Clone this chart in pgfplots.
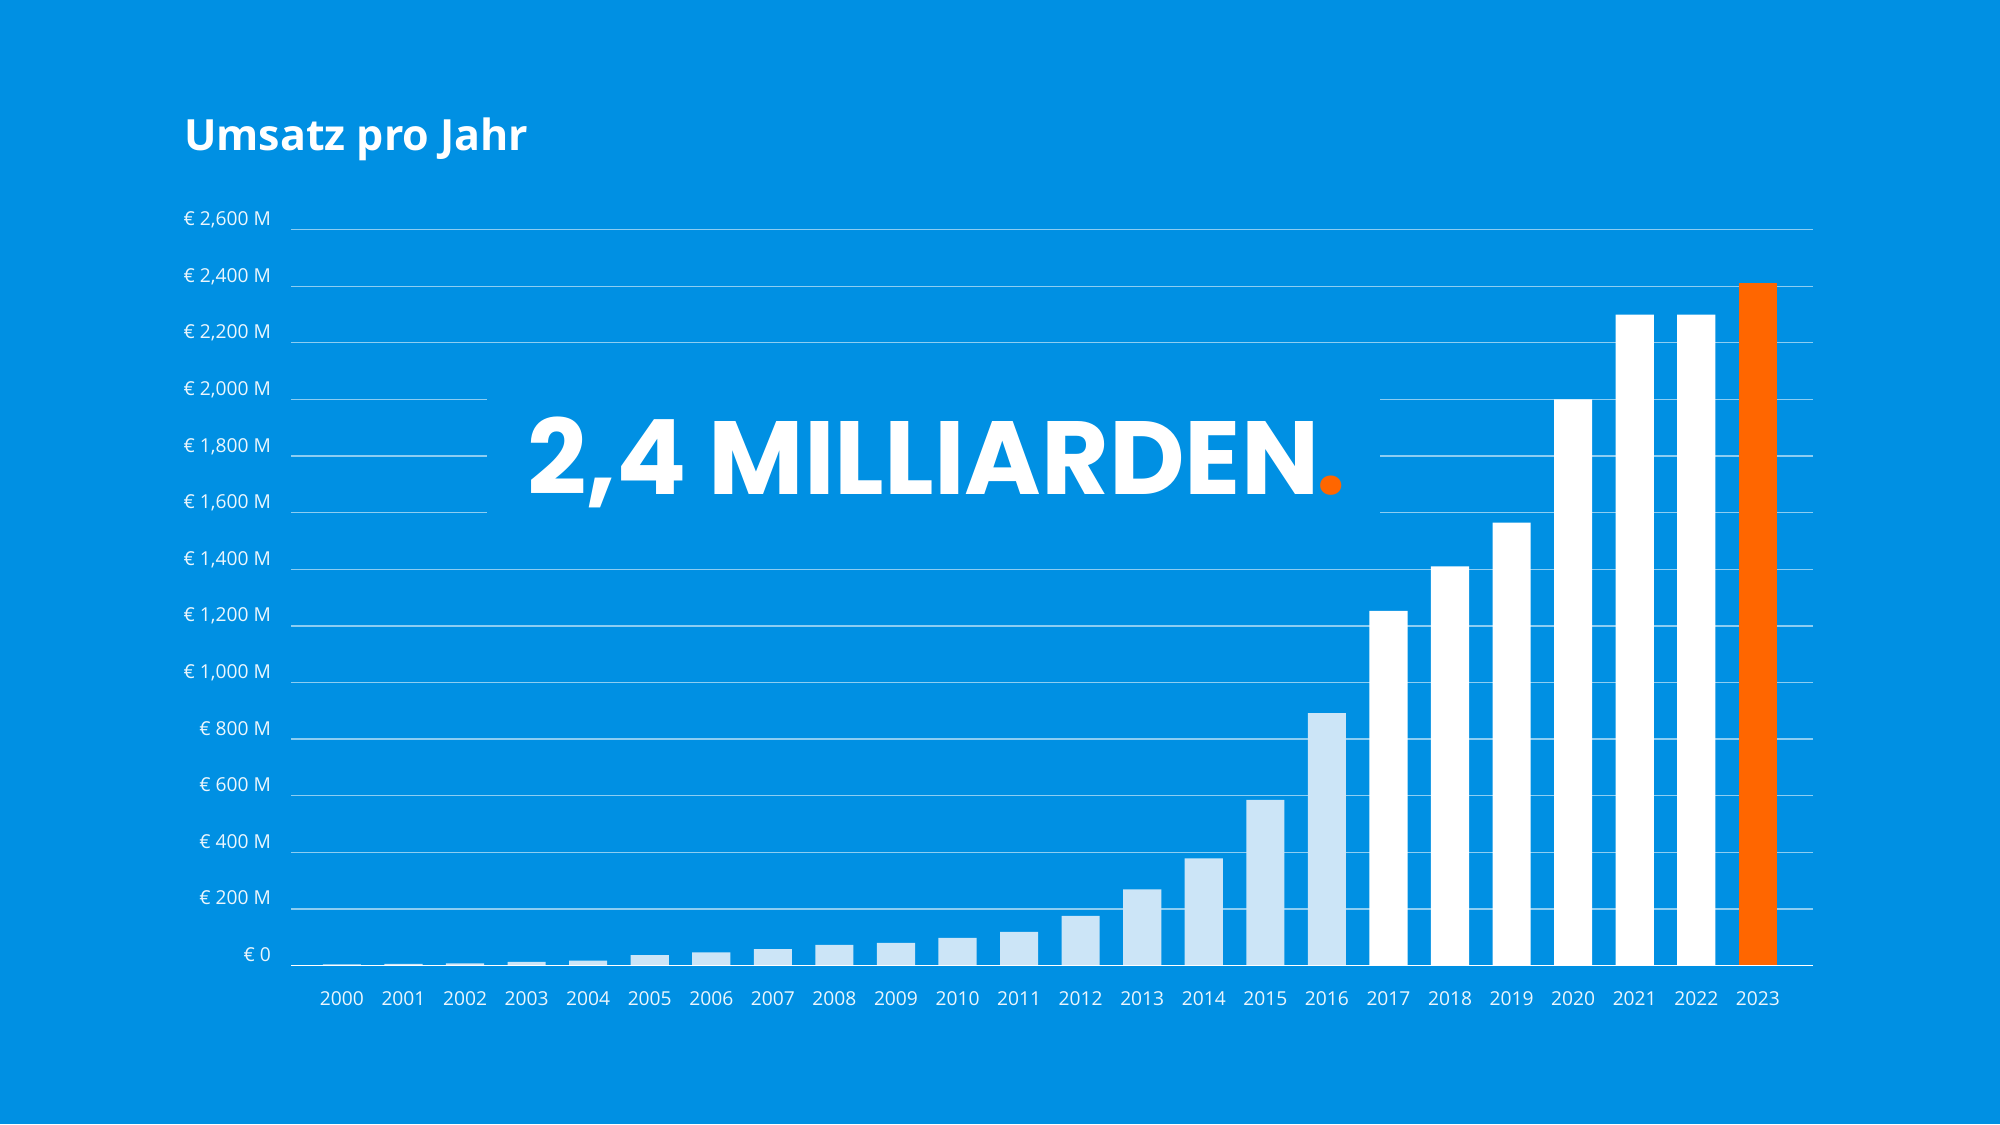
\documentclass[border=0pt]{standalone}
\usepackage{pgfplots}
\pgfplotsset{compat=1.18}
\usepackage{fontspec}
\setmainfont{Open Sans}
\newfontfamily\bigfont{Poppins}
\definecolor{bg}{RGB}{0,144,227}
\definecolor{lightbar}{RGB}{204,229,247}
\definecolor{orangebar}{RGB}{255,102,0}
\colorlet{gridc}{white!55!bg}
\colorlet{labc}{white!92!bg}
\begin{document}
\begin{tikzpicture}
\fill[bg] (0,0) rectangle (1000pt,562pt);
\node[anchor=base west, text=white, inner sep=0pt, font=\fontsize{21.5}{26}\selectfont\bfseries] at (91.8pt,486.7pt) {Umsatz pro Jahr};
\begin{axis}[
  at={(145.4pt,79.2pt)}, anchor=south west,
  scale only axis, width=760.9pt, height=368pt,
  xmin=-0.83, xmax=23.89, ymin=0, ymax=2600,
  axis line style={draw=none},
  major tick length=0pt,
  ytick={0,200,...,2600},
  yticklabels={€ 0,€ 200 M,€ 400 M,€ 600 M,€ 800 M,€ 1{,}000 M,€ 1{,}200 M,€ 1{,}400 M,€ 1{,}600 M,€ 1{,}800 M,€ 2{,}000 M,€ 2{,}200 M,€ 2{,}400 M,€ 2{,}600 M},
  xtick={0,...,23},
  xticklabels={2000,2001,2002,2003,2004,2005,2006,2007,2008,2009,2010,2011,2012,2013,2014,2015,2016,2017,2018,2019,2020,2021,2022,2023},
  ymajorgrids, grid style={line width=0.65pt, draw=gridc},
  tick label style={text=labc, font=\fontsize{9.6}{12}\selectfont},
  yticklabel style={anchor=base east, xshift=-6.4pt, yshift=2pt},
  xticklabel style={anchor=base, yshift=-19.8pt},
  /pgf/number format/assume math mode=true,
  ybar, bar width=0.62,
  clip=false,
]
\addplot[fill=lightbar, draw=none, bar shift=0pt] coordinates {
 (0,4) (1,6) (2,8) (3,13) (4,18) (5,37) (6,47) (7,58) (8,73) (9,80) (10,98) (11,119) (12,176) (13,269) (14,379) (15,585) (16,892)};
\addplot[fill=white, draw=none, bar shift=0pt] coordinates {
 (17,1253) (18,1410) (19,1565) (20,2000) (21,2300) (22,2300)};
\addplot[fill=orangebar, draw=none, bar shift=0pt] coordinates {(23,2410)};
\draw[white, line width=0.65pt] (axis cs:-0.83,0) -- (axis cs:23.89,0);
\fill[bg] (axis cs:2.357,1500) rectangle (axis cs:16.864,2100);
\end{axis}
\node[anchor=base west, text=white, inner sep=0pt, font=\bigfont\bfseries\fontsize{52}{58}\selectfont] at (263.3pt,314.5pt) {2,4 MILLIARDEN\kern-1.5pt\textcolor{orangebar}{.}};
\end{tikzpicture}
\end{document}
